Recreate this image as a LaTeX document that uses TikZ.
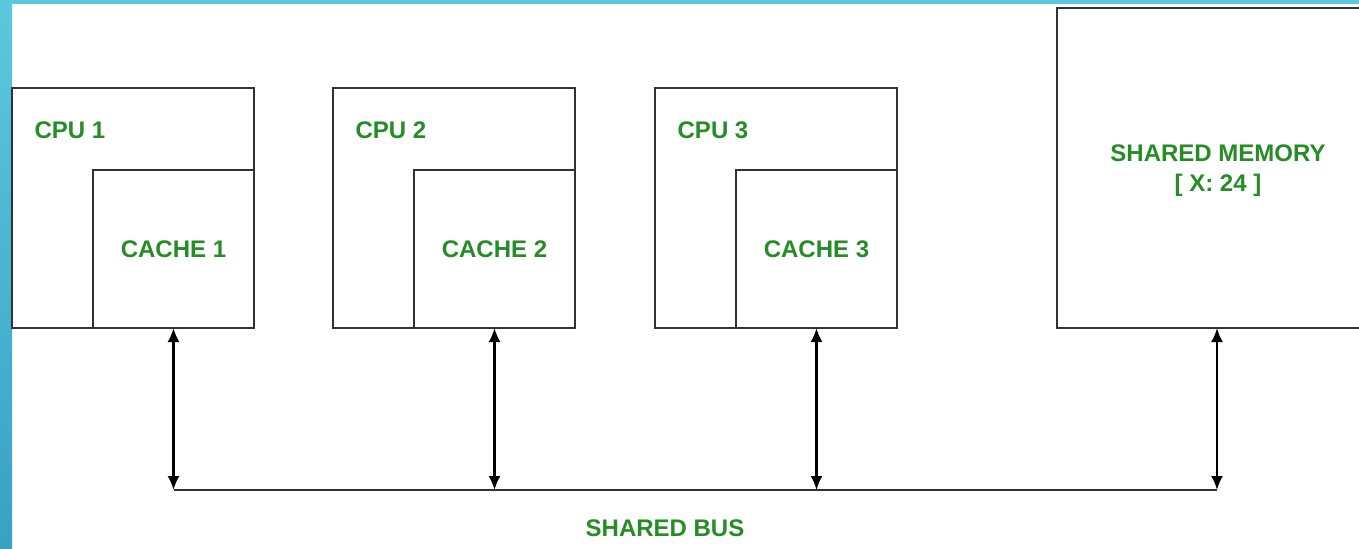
\documentclass[tikz,border=0pt]{standalone}
\usepackage{fontspec}
\setmainfont{Liberation Sans}
\usetikzlibrary{arrows.meta,positioning}
\definecolor{labelgreen}{RGB}{38,140,38}
\definecolor{linegray}{RGB}{50,50,50}
\definecolor{frametop}{RGB}{92,200,222}
\definecolor{framebot}{RGB}{58,160,196}
\begin{document}
\begin{tikzpicture}[x=0.5pt,y=-0.5pt,
    unitbox/.style={draw=linegray, line width=1.1pt, inner sep=0pt, outer sep=0pt},
    lbl/.style={text=labelgreen, font=\bfseries\fontsize{12}{15}\selectfont, align=center},
    link/.style={{Latex[length=7pt,width=6pt]}-{Latex[length=7pt,width=6pt]}, draw=black, line width=1.1pt}]
            \useasboundingbox (0,0) rectangle (1359,548);
            \clip (0,0) rectangle (1359,548);
            \fill[white] (0,0) rectangle (1359,548);
            \shade[top color=frametop, bottom color=framebot] (0,0) rectangle (12,548);
            \fill[frametop] (0,0) rectangle (1359,4);

            \node[unitbox, anchor=north west, minimum width=121pt, minimum height=120pt] (cpu1) at (12,88) {};
            \node[unitbox, anchor=south east, minimum width=80.5pt, minimum height=79pt] (cache1) at (cpu1.south east) {};
            \node[lbl] (cpulbl1) at (70,130) {CPU 1};
            \node[lbl] (cachelbl1) at (cache1.center) {CACHE 1};

            \node[unitbox, anchor=north west, minimum width=121pt, minimum height=120pt] (cpu2) at (333,88) {};
            \node[unitbox, anchor=south east, minimum width=80.5pt, minimum height=79pt] (cache2) at (cpu2.south east) {};
            \node[lbl] (cpulbl2) at (391,130) {CPU 2};
            \node[lbl] (cachelbl2) at (cache2.center) {CACHE 2};

            \node[unitbox, anchor=north west, minimum width=121pt, minimum height=120pt] (cpu3) at (655,88) {};
            \node[unitbox, anchor=south east, minimum width=80.5pt, minimum height=79pt] (cache3) at (cpu3.south east) {};
            \node[lbl] (cpulbl3) at (713,130) {CPU 3};
            \node[lbl] (cachelbl3) at (cache3.center) {CACHE 3};

            \node[unitbox, anchor=north west, minimum width=160pt, minimum height=160pt] (mem) at (1057,8) {};
            \node[lbl] (memlbl) at (1218,171) {SHARED MEMORY\\{[} X: 24 {]}};

            \coordinate (bus1) at (cache1.south |- 0,490);
            \coordinate (bus2) at (cache2.south |- 0,490);
            \coordinate (bus3) at (cache3.south |- 0,490);
            \coordinate (bus4) at (mem.south |- 0,490);
            \draw[linegray, line width=1.1pt] (bus1) -- (bus4);
            \draw[link] (cache1.south) -- (bus1);
            \draw[link] (cache2.south) -- (bus2);
            \draw[link] (cache3.south) -- (bus3);
            \draw[link] (mem.south) -- (bus4);

            \node[lbl] (buslbl) at (665,528) {SHARED BUS};
        \end{tikzpicture}
\end{document}
